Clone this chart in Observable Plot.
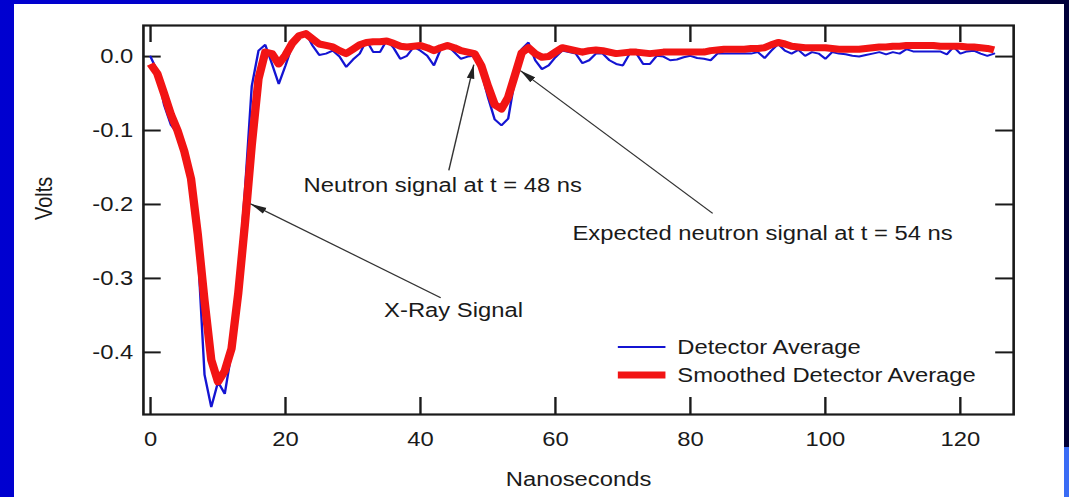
<!DOCTYPE html>
<html>
<head>
<meta charset="utf-8">
<script src="https://cdn.jsdelivr.net/npm/d3@7"></script>
<script src="https://cdn.jsdelivr.net/npm/@observablehq/plot@0.6"></script>
<style>
  html, body { margin: 0; padding: 0; }
  #stage { position: relative; width: 1069px; height: 497px; overflow: hidden;
    background: linear-gradient(to right, #0000d0 0%, #0000c0 35%, #000080 70%, #000038 100%); }
  #panel { position: absolute; left: 14px; top: 4px; width: 1050px; height: 493px; background: #ffffff; }
  #corner { position: absolute; left: 1064px; top: 447px; width: 5px; height: 50px; background: #3a6cf5; }
  #chart { position: absolute; left: 0; top: 0; }
</style>
</head>
<body>
<div id="stage">
  <div id="panel"></div>
  <div id="corner"></div>
  <div id="chart"></div>
</div>
<script>
// ---- data ----
const nanoseconds = d3.range(0, 126);
const detectorAverage = [
  0.000, -0.020, -0.065, -0.092, -0.104, -0.140, -0.158, -0.260, -0.430, -0.474,
  -0.440, -0.456, -0.400, -0.300, -0.180, -0.040, 0.008, 0.016, -0.010, -0.037,
  -0.012, 0.015, 0.030, 0.032, 0.015, 0.002, 0.004, 0.008, 0.000, -0.014,
  -0.004, 0.004, 0.022, 0.006, 0.006, 0.022, 0.012, -0.003, 0.001, 0.013,
  0.008, 0.001, -0.012, 0.010, 0.015, 0.006, -0.003, 0.000, 0.001, -0.020,
  -0.055, -0.085, -0.093, -0.084, -0.030, 0.010, 0.019, -0.005, -0.017, -0.012,
  -0.001, 0.008, 0.006, 0.004, -0.009, -0.005, 0.004, 0.004, -0.005, -0.010,
  -0.012, 0.004, 0.004, -0.010, -0.010, 0.001, 0.000, -0.005, -0.004, -0.001,
  0.001, -0.002, -0.003, -0.005, 0.004, 0.004, 0.004, 0.004, 0.004, 0.004,
  0.006, -0.002, 0.008, 0.017, 0.008, 0.004, 0.009, 0.001, 0.006, 0.004,
  -0.003, 0.006, 0.004, 0.003, 0.001, 0.000, 0.002, 0.004, 0.006, 0.003,
  0.006, 0.004, 0.010, 0.007, 0.007, 0.007, 0.007, 0.007, 0.003, 0.013,
  0.004, 0.007, 0.008, 0.004, 0.001, 0.004
];
const smoothedAverage = [
  -0.010, -0.023, -0.050, -0.078, -0.100, -0.128, -0.165, -0.240, -0.330, -0.410,
  -0.440, -0.425, -0.395, -0.320, -0.225, -0.120, -0.030, 0.006, 0.004, -0.010,
  0.002, 0.018, 0.028, 0.031, 0.024, 0.017, 0.015, 0.013, 0.008, 0.004,
  0.010, 0.016, 0.019, 0.020, 0.020, 0.021, 0.018, 0.014, 0.013, 0.014,
  0.015, 0.012, 0.008, 0.012, 0.015, 0.012, 0.008, 0.006, 0.004, -0.012,
  -0.040, -0.065, -0.071, -0.055, -0.025, 0.005, 0.012, 0.004, -0.001, 0.000,
  0.006, 0.012, 0.010, 0.008, 0.006, 0.008, 0.009, 0.008, 0.006, 0.004,
  0.005, 0.006, 0.006, 0.005, 0.004, 0.005, 0.006, 0.006, 0.006, 0.006,
  0.006, 0.006, 0.006, 0.008, 0.009, 0.010, 0.010, 0.010, 0.010, 0.011,
  0.011, 0.012, 0.016, 0.019, 0.017, 0.014, 0.013, 0.012, 0.012, 0.012,
  0.012, 0.011, 0.010, 0.010, 0.010, 0.010, 0.011, 0.012, 0.013, 0.013,
  0.014, 0.014, 0.015, 0.015, 0.015, 0.015, 0.015, 0.014, 0.014, 0.014,
  0.014, 0.013, 0.013, 0.012, 0.011, 0.009
];
const xTicks = [0, 20, 40, 60, 80, 100, 120];
const yTicks = [0.0, -0.1, -0.2, -0.3, -0.4];
const seriesNames = ["Detector Average", "Smoothed Detector Average"];
const seriesColors = ["#1414d2", "#f21414"];

// annotations (data coordinates)
const noteText = ["X-Ray Signal", "Neutron signal at t = 48 ns", "Expected neutron signal at t = 54 ns"];
const noteX = [44.9, 43.3, 90.7];
const noteY = [-0.343, -0.174, -0.239];
const arrowFromX = [43.0, 44.2, 83.3];
const arrowFromY = [-0.326, -0.154, -0.212];
const arrowToX = [14.8, 47.9, 54.8];
const arrowToY = [-0.199, -0.011, -0.019];

// ---- tables ----
const detector = nanoseconds.map((t, i) => ({t, v: detectorAverage[i]}));
const smoothed = nanoseconds.map((t, i) => ({t, v: smoothedAverage[i]}));
const notes = noteText.map((text, i) => ({text, x: noteX[i], y: noteY[i]}));
const arrows = arrowFromX.map((x1, i) => ({x1, y1: arrowFromY[i], x2: arrowToX[i], y2: arrowToY[i]}));

// horizontal stretch of the original figure
const W = 898, H = 497;
const mL = 120, mR = 47, mT = 25, mB = 83;
const plotW = W - mL - mR, plotH = H - mT - mB;
const font = "'Liberation Sans', Arial, Helvetica, sans-serif";

const chart = Plot.plot({
  width: W, height: H,
  marginLeft: mL, marginRight: mR, marginTop: mT, marginBottom: mB,
  style: {background: "transparent", fontFamily: font, fontSize: "20px", color: "#1a1a1a", overflow: "visible"},
  x: {domain: [-1.05, 127.9], label: null},
  y: {domain: [-0.484, 0.042], label: null},
  marks: [
    Plot.axisX(xTicks, {tickSize: 0, tickPadding: 17, fontSize: 20, fill: "#1a1a1a", label: null}),
    Plot.axisY(yTicks, {tickSize: 0, tickPadding: 8.5, fontSize: 20, fill: "#1a1a1a", label: null, tickFormat: d => d.toFixed(1)}),
    // inward ticks on all four sides
    Plot.tickX(xTicks, {x: d => d, insetBottom: plotH - 17, stroke: "#1a1a1a", strokeWidth: 2}),
    Plot.tickX(xTicks, {x: d => d, insetTop: plotH - 17, stroke: "#1a1a1a", strokeWidth: 2}),
    Plot.tickY(yTicks, {y: d => d, insetRight: plotW - 15, stroke: "#1a1a1a", strokeWidth: 2}),
    Plot.tickY(yTicks, {y: d => d, insetLeft: plotW - 15, stroke: "#1a1a1a", strokeWidth: 2}),
    Plot.line(detector, {x: "t", y: "v", stroke: seriesColors[0], strokeWidth: 2, strokeLinejoin: "miter"}),
    Plot.line(smoothed, {x: "t", y: "v", stroke: seriesColors[1], strokeWidth: 7, strokeLinejoin: "round", strokeLinecap: "butt"}),
    Plot.link(arrows, {x1: "x1", y1: "y1", x2: "x2", y2: "y2", stroke: "#333", strokeWidth: 1.2, className: "ann-arrow"}),
    Plot.text(notes, {x: "x", y: "y", text: "text", fontSize: 20, fill: "#1a1a1a"}),
    Plot.text(["Volts"], {frameAnchor: "left", rotate: -90, dx: -83, fontSize: 20, fill: "#1a1a1a"}),
    Plot.text(["Nanoseconds"], {frameAnchor: "bottom", dy: 71, fontSize: 20, fill: "#1a1a1a"}),
    Plot.frame({stroke: "#1a1a1a", strokeWidth: 2.2})
  ]
});

// stretch horizontally like the original pasted figure
chart.setAttribute("viewBox", `0 0 ${W} ${H}`);
chart.setAttribute("preserveAspectRatio", "none");
chart.setAttribute("width", 1069);
chart.setAttribute("height", H);
chart.style.width = "1069px";
chart.style.height = H + "px";
chart.style.maxWidth = "none";

const svg = d3.select(chart);
// filled arrowhead marker
const defs = svg.append("defs");
defs.append("marker")
  .attr("id", "ann-head")
  .attr("viewBox", "0 0 14 8")
  .attr("refX", 14).attr("refY", 4)
  .attr("markerWidth", 14).attr("markerHeight", 8)
  .attr("markerUnits", "userSpaceOnUse")
  .attr("orient", "auto")
  .append("path").attr("d", "M0,0.8 L14,4 L0,7.2 Z").attr("fill", "#222");
svg.selectAll(".ann-arrow path").attr("marker-end", "url(#ann-head)");

// legend (inside plot area)
const lg = svg.append("g").attr("font-family", font).attr("font-size", 20)
  .attr("fill", "#1a1a1a").attr("text-anchor", "start");
const legendRows = [
  {name: seriesNames[0], color: seriesColors[0], width: 2, y: 347},
  {name: seriesNames[1], color: seriesColors[1], width: 7, y: 375}
];
legendRows.forEach(r => {
  lg.append("line").attr("x1", 519).attr("x2", 559).attr("y1", r.y).attr("y2", r.y)
    .attr("stroke", r.color).attr("stroke-width", r.width);
  lg.append("text").attr("x", 569).attr("y", r.y).attr("dy", "0.35em")
    .attr("text-anchor", "start").style("text-anchor", "start").text(r.name);
});

document.getElementById("chart").appendChild(chart);
</script>
</body>
</html>
